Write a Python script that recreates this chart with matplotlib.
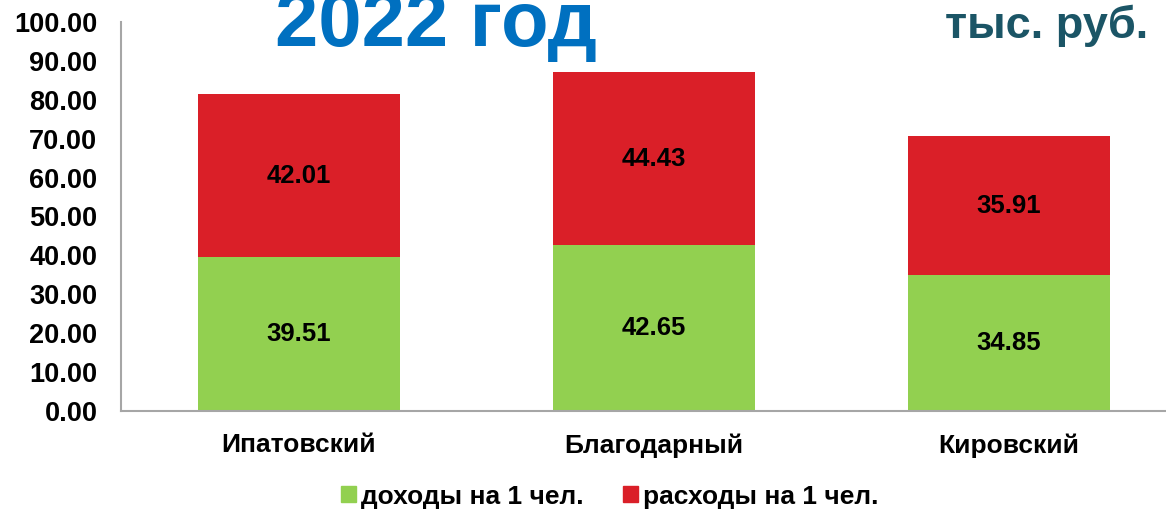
import numpy as np
import matplotlib.pyplot as plt
from matplotlib.patches import Patch

plt.rcParams['font.family'] = ['Liberation Sans', 'DejaVu Sans']
plt.rcParams['font.weight'] = 'bold'

DISTRICTS = ["Ипатовский", "Благодарный", "Кировский"]
INCOME = [39.51, 42.65, 34.85]
EXPENSE = [42.01, 44.43, 35.91]
SERIES_NAMES = ["доходы на 1 чел.", "расходы на 1 чел."]
Y_TICKS = np.arange(0, 101, 10)

GREEN = "#92D050"
RED = "#DA1F28"


def main():
    fig = plt.figure(figsize=(11.66, 5.12), dpi=100)
    ax = fig.add_axes([0.1038, 0.1973, 0.9135, 0.7598])
    x = np.arange(len(DISTRICTS))
    width = 0.569
    income = np.array(INCOME)
    expense = np.array(EXPENSE)
    b1 = ax.bar(x, income, width, color=GREEN, zorder=2)
    b2 = ax.bar(x, expense, width, bottom=income, color=RED, zorder=2)
    ax.bar_label(b1, labels=[f"{v:.2f}" for v in income], label_type="center",
                 fontsize=18.5, fontweight="bold", color="black")
    ax.bar_label(b2, labels=[f"{v:.2f}" for v in expense], label_type="center",
                 fontsize=18.5, fontweight="bold", color="black")

    ax.set_xlim(-0.5, 2.5)
    ax.set_ylim(0, 100)
    ax.set_yticks(Y_TICKS)
    ax.set_yticklabels([f"{v:.2f}" for v in Y_TICKS])
    ax.set_xticks(x)
    ax.set_xticklabels(DISTRICTS)
    ax.tick_params(axis="y", length=0, pad=17, labelsize=19.5)
    ax.tick_params(axis="x", length=0, pad=16, labelsize=19)
    for lab in ax.get_xticklabels() + ax.get_yticklabels():
        lab.set_fontweight("bold")
    for side in ["top", "right"]:
        ax.spines[side].set_visible(False)
    for side in ["left", "bottom"]:
        ax.spines[side].set_color("#A6A6A6")
        ax.spines[side].set_linewidth(1.5)

    fig.text(0.236, 0.91, "2022 год", fontsize=56, fontweight="bold",
             color="#0070C0", ha="left", va="baseline")
    fig.text(0.985, 0.926, "тыс. руб.", fontsize=32.5, fontweight="bold",
             color="#1B5566", ha="right", va="baseline")

    handles = [Patch(color=GREEN), Patch(color=RED)]
    fig.legend(handles, SERIES_NAMES, loc="center", bbox_to_anchor=(0.523, 0.03),
               ncol=2, frameon=False, prop={"size": 19, "weight": "bold"},
               handlelength=0.55, handleheight=0.55, handletextpad=0.2,
               columnspacing=1.5)

    fig.savefig("out.png", dpi=100)
    plt.close(fig)


if __name__ == "__main__":
    main()
